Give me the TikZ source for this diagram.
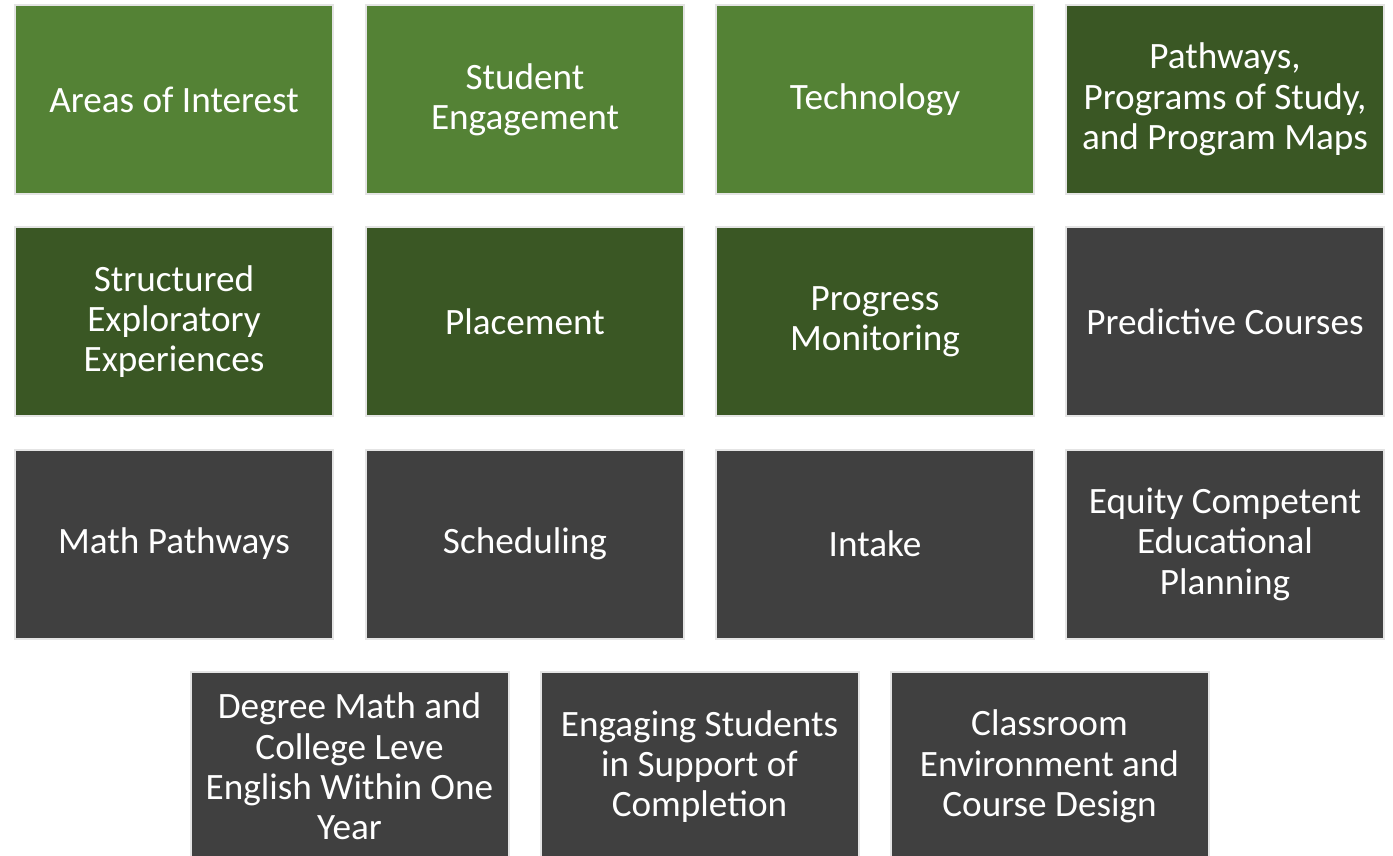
\documentclass[tikz,border=0pt]{standalone}
\usepackage{fontspec}
\setmainfont{Carlito}
\usepackage{xcolor}

\definecolor{leafgreen}{HTML}{548235}
\definecolor{forestgreen}{HTML}{3A5724}
\definecolor{slate}{HTML}{404040}
\definecolor{tileedge}{HTML}{E4E4E4}

\begin{document}
\begin{tikzpicture}[x=0.5pt,y=-0.5pt,
    tile/.style={draw=tileedge,line width=1pt,minimum width=159pt,minimum height=94.5pt,
                 inner sep=0pt,outer sep=0pt,text=white,align=center,
                 font=\fontsize{18.6}{20.2}\selectfont},
    lightg/.style={tile,fill=leafgreen},
    darkg/.style={tile,fill=forestgreen},
    grayt/.style={tile,fill=slate}]
    % canvas (bottom row runs off the page)
    \clip (0,0) rectangle (1393,856);
    \fill[white] (0,0) rectangle (1393,856);

    % column and row centres (px)
    \def\ca{174}  \def\cb{525}  \def\cc{875}  \def\cd{1225}
    \def\ra{99.5} \def\rb{321.5} \def\rc{544} \def\rd{766.5}

    % row 1
    \node[lightg] (areas)    at (\ca,\ra) {Areas of Interest};
    \node[lightg] (engage)   at (\cb,\ra) {Student\\Engagement};
    \node[lightg] (tech)     at (\cc,\ra) {Technology};
    \node[darkg]  (pathways) at (\cd,\ra) {Pathways,\\Programs of Study,\\and Program Maps};

    % row 2
    \node[darkg]  (explore)  at (\ca,\rb) {Structured\\Exploratory\\Experiences};
    \node[darkg]  (place)    at (\cb,\rb) {Placement};
    \node[darkg]  (progress) at (\cc,\rb) {Progress\\Monitoring};
    \node[grayt]  (predict)  at (\cd,\rb) {Predictive Courses};

    % row 3
    \node[grayt]  (math)     at (\ca,\rc) {Math Pathways};
    \node[grayt]  (sched)    at (\cb,\rc) {Scheduling};
    \node[grayt]  (intake)   at (\cc,\rc) {Intake};
    \node[grayt]  (equity)   at (\cd,\rc) {Equity Competent\\Educational\\Planning};

    % row 4
    \node[grayt]  (degree)   at (349.5,\rd) {Degree Math and\\College Leve\\English Within One\\Year};
    \node[grayt]  (support)  at (699.5,\rd) {Engaging Students\\in Support of\\Completion};
    \node[grayt]  (class)    at (1049.5,\rd) {Classroom\\Environment and\\Course Design};
\end{tikzpicture}
\end{document}
